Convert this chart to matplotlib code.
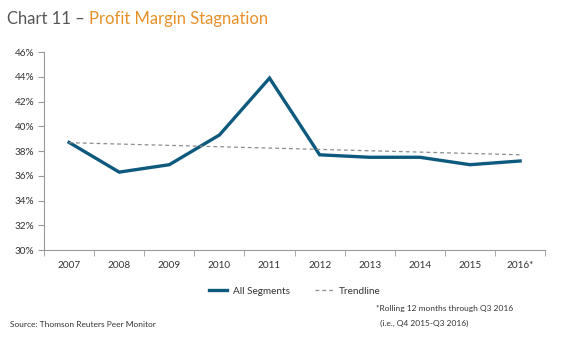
import numpy as np
import matplotlib.pyplot as plt

years = ['2007', '2008', '2009', '2010', '2011', '2012', '2013', '2014', '2015', '2016*']
margin = [38.7, 36.3, 36.9, 39.3, 43.9, 37.7, 37.5, 37.5, 36.9, 37.2]
yticks = [30, 32, 34, 36, 38, 40, 42, 44, 46]

plt.rcParams['font.family'] = ['Lato', 'DejaVu Sans']

fig = plt.figure(figsize=(5.72, 3.43), dpi=100)
ax = fig.add_axes([0.077, 0.271, 0.876, 0.577])

x = np.arange(len(years))
fit = np.polyfit(x, margin, 1)
trend = np.polyval(fit, x)

ax.plot(x, margin, color='#0e5a7e', lw=2.4, solid_joinstyle='miter', label='All Segments')
ax.plot(x, trend, color='#8c8c8c', lw=0.9, ls=(0, (3, 2.5)), label='Trendline')

ax.set_xlim(-0.5, len(years) - 0.5)
ax.set_ylim(30, 46)
ax.set_yticks(yticks)
ax.set_yticklabels(['%d%%' % v for v in yticks])
ax.set_xticks(x)
ax.set_xticklabels(years)
ax.set_xticks(np.arange(-0.5, len(years), 1), minor=True)
ax.tick_params(axis='x', which='major', length=0, pad=8, labelsize=7.2, colors='#333333')
ax.tick_params(axis='x', which='minor', length=4, color='#999999')
ax.tick_params(axis='y', length=4, color='#999999', labelsize=7.2, labelcolor='#333333', pad=3)
for s in ['top', 'right']:
    ax.spines[s].set_visible(False)
for s in ['left', 'bottom']:
    ax.spines[s].set_color('#999999')
    ax.spines[s].set_linewidth(0.8)

ax.legend(loc='upper center', bbox_to_anchor=(0.5, -0.14), ncol=2, frameon=False,
          fontsize=7.2, handlelength=1.8, handletextpad=0.6, columnspacing=2.5,
          labelcolor='#333333')

fig.text(0.012, 0.945, 'Chart 11 \u2013', fontsize=12, color='#555555', va='center')
fig.text(0.156, 0.945, 'Profit Margin Stagnation', fontsize=12, color='#e8902a', va='center')
fig.text(0.017, 0.055, 'Source: Thomson Reuters Peer Monitor', fontsize=6, color='#333333', va='center')
fig.text(0.658, 0.1, '*Rolling 12 months through Q3 2016', fontsize=6, color='#333333', va='center')
fig.text(0.66, 0.058, ' (i.e., Q4 2015-Q3 2016)', fontsize=6, color='#333333', va='center')

fig.savefig('out.png', dpi=100)
